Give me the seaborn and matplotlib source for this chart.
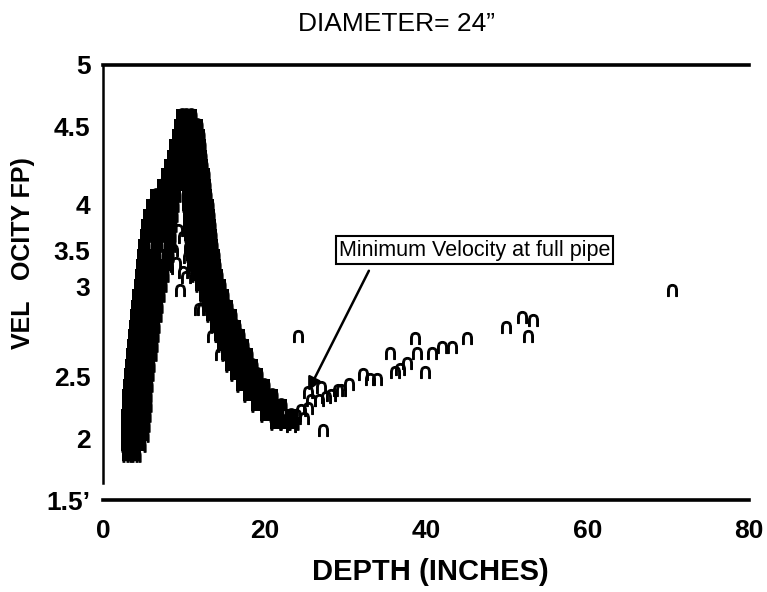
import numpy as np
import pandas as pd
import matplotlib
matplotlib.use("Agg")
import matplotlib.pyplot as plt
import seaborn as sns

# Valores (profundidade em polegadas, velocidade em fps)
# Faixa densa ascendente (bordas esquerda / meio / direita)
lb_y = [1.87, 1.95, 2.03, 2.11, 2.19, 2.27, 2.35, 2.43, 2.51, 2.56, 2.62, 2.67,
        2.73, 2.78, 2.84, 2.89, 2.95, 3.01, 3.16, 3.30, 3.44, 3.56, 3.67, 3.78,
        3.88, 3.99, 4.06, 4.12, 4.19, 4.25, 4.31, 4.38, 4.44, 4.51, 4.59]
lb_xl = [3.12, 3.00, 3.00, 3.00, 3.00, 3.12, 3.12, 3.24, 3.37, 3.49, 3.61, 3.73,
         3.86, 3.98, 4.10, 4.22, 4.35, 4.59, 4.71, 4.83, 4.96, 5.08, 5.32, 5.45,
         5.69, 6.06, 6.55, 7.41, 7.89, 8.26, 8.63, 8.87, 9.24, 9.49, 9.73]
lb_xm = [3.55, 3.79, 3.98, 4.04, 4.10, 4.22, 4.22, 4.35, 4.47, 4.59, 4.77, 4.90,
         5.02, 5.14, 5.32, 5.45, 5.63, 5.88, 6.06, 6.30, 6.49, 6.67, 6.79, 6.92,
         7.10, 7.34, 7.71, 8.38, 8.87, 9.24, 9.61, 9.85, 10.16, 10.34, 10.34]
lb_xr = [3.98, 4.59, 4.96, 5.08, 5.20, 5.32, 5.32, 5.45, 5.57, 5.69, 5.94, 6.06,
         6.18, 6.30, 6.55, 6.67, 6.92, 7.16, 7.41, 7.77, 8.02, 8.26, 8.26, 8.38,
         8.51, 8.63, 8.87, 9.36, 9.85, 10.22, 10.59, 10.83, 11.08, 11.20, 10.95]

# Faixa densa descendente
rb_y = [4.51, 4.44, 4.38, 4.31, 4.25, 4.19, 4.12, 4.06, 3.99, 3.88, 3.78, 3.67,
        3.56, 3.44, 3.30, 3.16, 3.01, 2.95, 2.89, 2.84, 2.78, 2.73, 2.67, 2.62,
        2.56, 2.51, 2.43, 2.35, 2.27, 2.19, 2.13]
rb_xl = [10.10, 10.22, 10.34, 10.47, 10.47, 10.47, 10.47, 10.47, 10.47, 10.59,
         10.71, 10.83, 10.95, 11.08, 11.32, 11.69, 12.18, 12.67, 13.04, 13.53,
         14.01, 14.50, 14.87, 15.36, 15.85, 16.46, 17.20, 18.05, 19.03, 20.13, 21.48]
rb_xm = [10.89, 11.08, 11.20, 11.32, 11.38, 11.51, 11.57, 11.63, 11.75, 11.87,
         12.00, 12.12, 12.24, 12.42, 12.61, 12.91, 13.34, 13.77, 14.20, 14.69,
         15.18, 15.67, 16.10, 16.59, 17.14, 17.75, 18.54, 19.46, 20.56, 21.73, 22.52]
rb_xr = [11.69, 11.93, 12.06, 12.18, 12.30, 12.55, 12.67, 12.79, 13.04, 13.16,
         13.28, 13.40, 13.53, 13.77, 13.89, 14.14, 14.50, 14.87, 15.36, 15.85,
         16.34, 16.83, 17.32, 17.81, 18.42, 19.03, 19.89, 20.87, 22.09, 23.32, 23.56]

# Pontos isolados entre as faixas
inner_x = [9.49, 10.22, 9.85, 11.93, 12.30, 13.53, 14.50, 9.85, 10.71, 10.47,
           9.00, 11.08, 9.24, 8.63, 8.02, 24.17]
inner_y = [2.98, 3.13, 3.20, 2.87, 2.87, 2.72, 2.62, 3.65, 3.54, 3.41,
           3.33, 3.33, 3.72, 3.51, 3.26, 2.72]

# Pontos esparsos após o mínimo
tail_x = [22.71, 23.30, 23.93, 24.54, 24.90, 25.40, 25.40, 25.76, 26.74, 26.99,
          27.23, 27.60, 28.21, 29.07, 29.44, 30.42, 32.25, 33.11, 33.97, 35.56,
          36.17, 36.78, 37.64, 38.62, 38.86, 39.84, 40.70, 42.04, 43.27, 45.10,
          49.88, 51.84, 53.31, 52.69, 70.44]
tail_y = [2.15, 2.10, 2.19, 2.23, 2.17, 2.25, 2.37, 2.31, 2.31, 2.41,
          2.07, 2.33, 2.35, 2.39, 2.39, 2.44, 2.51, 2.48, 2.48, 2.63,
          2.52, 2.54, 2.57, 2.71, 2.63, 2.52, 2.63, 2.66, 2.66, 2.71,
          2.77, 2.83, 2.81, 2.72, 2.98]

x_ticks = [0, 20, 40, 60, 80]
y_ticks = [1.5, 2, 2.5, 3, 3.5, 4, 4.5, 5]
y_ticklabels = ["1.5\u2019", "2", "2.5", "3", "3.5", "4", "4.5", "5"]
# posição vertical (px) de cada marca do eixo y na figura original (escala irregular)
y_tick_pos = [0, 61, 124, 214, 249, 296, 374, 435]

dense = pd.DataFrame({
    "depth": lb_xl + lb_xm + lb_xr + rb_xl + rb_xm + rb_xr,
    "vel": lb_y * 3 + rb_y * 3,
})
sparse = pd.DataFrame({"depth": inner_x + tail_x, "vel": inner_y + tail_y})

sns.set_style("white")
plt.rcParams["font.family"] = ["Liberation Sans", "DejaVu Sans"]
for k in ["text.color", "axes.labelcolor", "xtick.color", "ytick.color",
          "axes.edgecolor"]:
    plt.rcParams[k] = "black"

fig = plt.figure(figsize=(7.67, 5.92), dpi=100)
ax = fig.add_axes([103 / 767, 92 / 592, 646 / 767, 435 / 592])

mk = r"$\cap$"
# nuvem densa: quadrados cheios + contorno de marcadores "n"
sns.scatterplot(data=dense, x="depth", y="vel", ax=ax, marker="s", s=85,
                color="black", edgecolor="black", linewidth=0, legend=False)
sns.scatterplot(data=dense, x="depth", y="vel", ax=ax, marker=mk, s=95,
                color="black", edgecolor="black", linewidth=0.8, legend=False)
sns.scatterplot(data=sparse, x="depth", y="vel", ax=ax, marker=mk, s=75,
                color="black", edgecolor="black", linewidth=0.8, legend=False)


def fwd(v):
    return np.interp(v, y_ticks, y_tick_pos)


def inv(p):
    return np.interp(p, y_tick_pos, y_ticks)


ax.set_yscale("function", functions=(fwd, inv))
ax.set_ylim(1.5, 5)
ax.set_xlim(0, 80)

ax.set_yticks(y_ticks, labels=y_ticklabels)
ax.set_xticks([0, 40, 60, 80], labels=["0", "40", "60", "80"])
ax.set_xticks([20], labels=["20"], minor=True)
ax.tick_params(axis="y", direction="in", length=7, width=2, pad=9,
               labelsize=19)
ax.tick_params(axis="x", which="major", direction="in", length=24, width=1.4,
               pad=14, labelsize=19)
ax.tick_params(axis="x", which="minor", direction="in", length=8, width=1.4,
               pad=14, labelsize=19)
for lab in ax.get_xticklabels(which="both") + ax.get_yticklabels():
    lab.set_fontweight("bold")
ax.xaxis.get_major_ticks()[0].tick1line.set_visible(False)
ax.yaxis.get_major_ticks()[0].tick1line.set_visible(False)

ax.spines["right"].set_visible(False)
ax.spines["top"].set_linewidth(2.6)
ax.spines["bottom"].set_linewidth(2.6)
ax.spines["left"].set_linewidth(1.8)
ax.spines["left"].set_bounds(1.64, 5)

ax.set_xlabel("DEPTH (INCHES)", fontsize=21, fontweight="bold")
ax.xaxis.set_label_coords(0.506, -0.133)
ax.set_ylabel("VEL   OCITY FP)", fontsize=18, fontweight="bold")
ax.yaxis.set_label_coords(-0.105, 0.568)

fig.text(397 / 767, 1 - 24 / 592, "DIAMETER= 24\u201d", fontsize=19,
         ha="center", va="center")

ax.annotate("Minimum Velocity at full pipe", xy=(25.4, 2.38), xytext=(46, 3.51),
            fontsize=15.5, ha="center", va="center",
            bbox=dict(boxstyle="square,pad=0.15", fc="white", ec="black", lw=1.5),
            arrowprops=dict(arrowstyle="-|>", relpos=(0.13, 0), shrinkA=5,
                            shrinkB=0, lw=1.8, color="black", mutation_scale=20))

plt.savefig("out.png", dpi=100)
